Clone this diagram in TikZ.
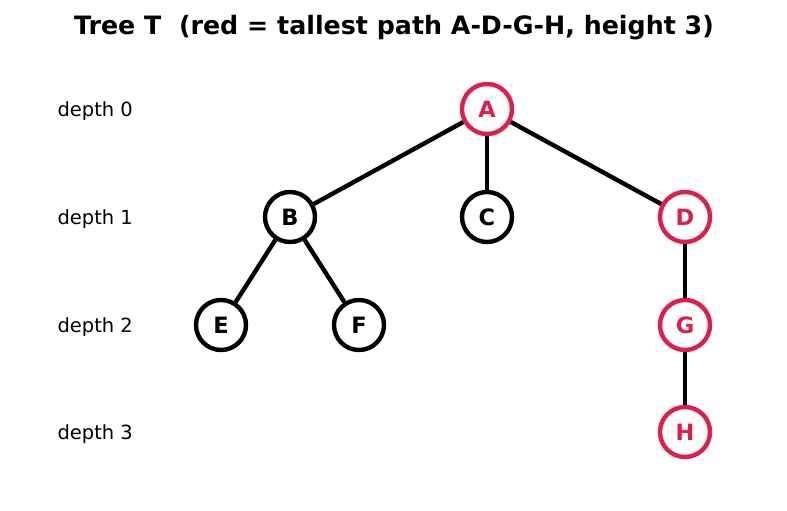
\documentclass[tikz,border=0pt]{standalone}
\usepackage{fontspec}
\setmainfont{DejaVu Sans}
\definecolor{pathred}{RGB}{220,32,75}
\begin{document}
\begin{tikzpicture}[x=1pt,y=-1pt,
  tnode/.style={circle,draw=black,line width=4.4pt,fill=white,minimum size=50pt,inner sep=0pt,font=\fontsize{22.5}{24}\selectfont\bfseries,text=black,text depth=0pt,text height=16pt},
  rnode/.style={tnode,draw=pathred,text=pathred},
  edge/.style={line width=4.4pt,draw=black},
  depth/.style={anchor=west,font=\fontsize{19.5}{22}\selectfont}]
\useasboundingbox (0,0) rectangle (787,511);
\node[font=\fontsize{25.3}{28}\selectfont\bfseries] (title) at (394,28) {Tree T\ \ (red = tallest path A-D-G-H, height 3)};
\node[depth] (d0) at (54,111) {depth 0};
\node[depth] (d1) at (54,219) {depth 1};
\node[depth] (d2) at (54,327) {depth 2};
\node[depth] (d3) at (54,434) {depth 3};
\node[rnode] (A) at (487,109) {A};
\node[tnode] (B) at (290,217) {B};
\node[tnode] (C) at (487,217) {C};
\node[rnode] (D) at (685,217) {D};
\node[tnode] (E) at (221,325) {E};
\node[tnode] (F) at (359,325) {F};
\node[rnode] (G) at (685,325) {G};
\node[rnode] (H) at (685,432) {H};
\draw[edge] (A) -- (B);
\draw[edge] (A) -- (C);
\draw[edge] (A) -- (D);
\draw[edge] (B) -- (E);
\draw[edge] (B) -- (F);
\draw[edge] (D) -- (G);
\draw[edge] (G) -- (H);
\end{tikzpicture}
\end{document}
